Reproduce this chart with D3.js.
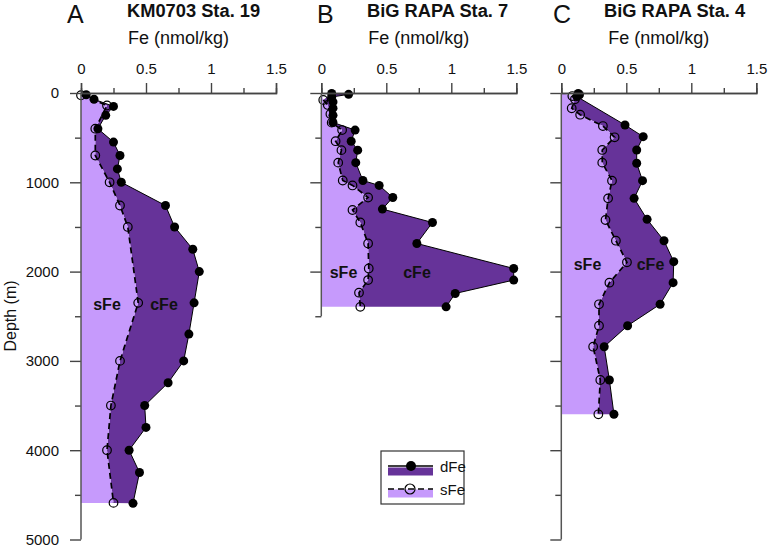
<!DOCTYPE html>
<html>
<head>
<meta charset="utf-8">
<script src="https://cdn.jsdelivr.net/npm/d3@7"></script>
<style>
  html, body { margin: 0; padding: 0; background: #fff; }
  svg { display: block; font-family: Arial, "Liberation Sans", Helvetica, sans-serif; }
</style>
</head>
<body>
<svg id="chart" width="768" height="547"></svg>
<script>
// ---------- data ----------
const xTicksMajor = [0, 0.5, 1, 1.5];
const xTicksMinor = [0.25, 0.75, 1.25];
const xTickLabels = ["0", "0.5", "1", "1.5"];
const yTickLabels = ["0", "1000", "2000", "3000", "4000", "5000"];

const panelLetters = ["A", "B", "C"];
const panelTitles = ["KM0703 Sta. 19", "BiG RAPA Sta. 7", "BiG RAPA Sta. 4"];
const panelMaxDepth = [5000, 2500, 5000];

// Panel A
const A_dDepth = [20, 70, 150, 250, 400, 550, 700, 850, 1000, 1260, 1500, 1750, 2000, 2350, 2700, 3000, 3245, 3500, 3745, 4000, 4250, 4595];
const A_dFe    = [0.04, 0.10, 0.25, 0.19, 0.13, 0.25, 0.30, 0.28, 0.31, 0.65, 0.72, 0.86, 0.91, 0.87, 0.83, 0.79, 0.67, 0.49, 0.50, 0.37, 0.45, 0.40];
const A_sDepth = [25, 140, 400, 700, 1000, 1260, 1500, 2350, 3000, 3500, 4000, 4590];
const A_sFe    = [0.0, 0.20, 0.11, 0.11, 0.22, 0.30, 0.36, 0.44, 0.30, 0.23, 0.20, 0.25];

// Panel B
const B_dDepth = [5, 15, 45, 100, 170, 250, 330, 415, 540, 640, 780, 980, 1035, 1170, 1300, 1450, 1685, 1965, 2095, 2245, 2395];
const B_dFe    = [0.08, 0.21, 0.08, 0.09, 0.09, 0.09, 0.09, 0.26, 0.23, 0.28, 0.265, 0.32, 0.445, 0.55, 0.47, 0.855, 0.735, 1.48, 1.48, 1.03, 0.96];
const B_sDepth = [78, 134, 235, 332, 415, 540, 640, 780, 980, 1035, 1170, 1310, 1450, 1685, 1965, 2095, 2236, 2395];
const B_sFe    = [0.015, 0.05, 0.07, 0.08, 0.16, 0.11, 0.155, 0.13, 0.165, 0.24, 0.36, 0.24, 0.30, 0.36, 0.365, 0.36, 0.29, 0.30];

// Panel C
const C_dDepth = [5, 20, 40, 358, 489, 638, 787, 982, 1180, 1415, 1654, 1889, 2124, 2366, 2606, 2841, 3214, 3598];
const C_dFe    = [0.13, 0.14, 0.12, 0.49, 0.63, 0.58, 0.58, 0.625, 0.56, 0.66, 0.79, 0.865, 0.86, 0.76, 0.51, 0.33, 0.37, 0.405];
const C_sDepth = [34, 70, 171, 243, 370, 496, 638, 780, 982, 1180, 1422, 1654, 1896, 2124, 2366, 2606, 2841, 3214, 3598];
const C_sFe    = [0.085, 0.105, 0.08, 0.145, 0.32, 0.41, 0.315, 0.315, 0.39, 0.36, 0.34, 0.42, 0.505, 0.37, 0.29, 0.29, 0.245, 0.30, 0.285];

const legendLabels = ["dFe", "sFe"];
const areaLabels = ["sFe", "cFe"];

// ---------- layout / style ----------
const DARK = "#663399";
const LIGHT = "#C69AFC";
const AXIS = "#444";
const FONT = 'Arial, "Liberation Sans", Helvetica, sans-serif';

const panelX0 = [81, 321.3, 561.3];
const panelW = 195;
const yTop = 93, yBottom = 539.5;
const letterPos = [[67, 23], [317, 23], [553, 23]];
const titleX = [127, 367, 604];
const areaLabelPos = [[[107, 310], [164, 310]], [[343.5, 278], [417, 278]], [[587.5, 270], [650.5, 270]]];

const datasets = [
  {dD: A_dDepth, dV: A_dFe, sD: A_sDepth, sV: A_sFe},
  {dD: B_dDepth, dV: B_dFe, sD: B_sDepth, sV: B_sFe},
  {dD: C_dDepth, dV: C_dFe, sD: C_sDepth, sV: C_sFe}
];

const svg = d3.select("#chart");
svg.append("rect").attr("width", 768).attr("height", 547).attr("fill", "#fff");

const y = d3.scaleLinear().domain([0, 5000]).range([yTop, yBottom]);

datasets.forEach((ds, i) => {
  const x0 = panelX0[i];
  const x = d3.scaleLinear().domain([0, 1.5]).range([x0, x0 + panelW]);
  const g = svg.append("g");

  const dPts = ds.dD.map((d, k) => [ds.dV[k], d]);
  const sPts = ds.sD.map((d, k) => [ds.sV[k], d]);

  // dark (cFe) polygon: dFe line then sFe reversed
  const darkPoly = dPts.concat(sPts.slice().reverse());
  g.append("path")
    .attr("d", d3.line().x(p => x(p[0])).y(p => y(p[1]))(darkPoly) + "Z")
    .attr("fill", DARK).attr("stroke", "none");

  // light (sFe) polygon
  const lightPoly = [[0, 0]].concat(sPts).concat([[0, sPts[sPts.length - 1][1]]]);
  g.append("path")
    .attr("d", d3.line().x(p => x(p[0])).y(p => y(p[1]))(lightPoly) + "Z")
    .attr("fill", LIGHT).attr("stroke", "none");

  // lines
  g.append("path")
    .attr("d", d3.line().x(p => x(p[0])).y(p => y(p[1]))(dPts))
    .attr("fill", "none").attr("stroke", "#000").attr("stroke-width", 1);
  g.append("path")
    .attr("d", d3.line().x(p => x(p[0])).y(p => y(p[1]))(sPts))
    .attr("fill", "none").attr("stroke", "#000").attr("stroke-width", 1.7)
    .attr("stroke-dasharray", "6,4");

  // markers
  g.selectAll("circle.d").data(dPts).join("circle")
    .attr("class", "d")
    .attr("cx", p => x(p[0])).attr("cy", p => y(p[1])).attr("r", 4.5)
    .attr("fill", "#000");
  g.selectAll("circle.s").data(sPts).join("circle")
    .attr("class", "s")
    .attr("cx", p => x(p[0])).attr("cy", p => y(p[1])).attr("r", 4.3)
    .attr("fill", "none").attr("stroke", "#000").attr("stroke-width", 1.2);

  // area labels
  areaLabels.forEach((t, k) => {
    g.append("text").attr("x", areaLabelPos[i][k][0]).attr("y", areaLabelPos[i][k][1])
      .attr("text-anchor", "middle").attr("font-weight", "bold").attr("font-size", 16)
      .attr("fill", "#111").text(t);
  });

  // x axis (top)
  const xMaj = d3.axisTop(x).tickValues(xTicksMajor).tickSize(10).tickPadding(9)
    .tickFormat((d, k) => xTickLabels[k]);
  const xMin = d3.axisTop(x).tickValues(xTicksMinor).tickSize(5).tickFormat("");
  const gx = svg.append("g").attr("transform", `translate(0,${yTop})`).call(xMaj);
  const gx2 = svg.append("g").attr("transform", `translate(0,${yTop})`).call(xMin);
  [gx, gx2].forEach(a => {
    a.select(".domain").attr("stroke", AXIS).attr("stroke-width", 1.4);
    a.selectAll(".tick line").attr("stroke", AXIS).attr("stroke-width", 1.4);
    a.selectAll("text").attr("font-size", 15).attr("font-family", FONT).attr("fill", "#111");
  });

  // y axis
  const maxD = panelMaxDepth[i];
  const yMajVals = d3.range(0, maxD + 1, 1000);
  const yMinVals = d3.range(500, maxD + 1, 1000);
  const yMaj = d3.axisLeft(y).tickValues(yMajVals).tickSize(11).tickPadding(11)
    .tickFormat((d, k) => i === 0 ? yTickLabels[k] : "");
  const yMin = d3.axisLeft(y).tickValues(yMinVals).tickSize(6).tickFormat("");
  const gy = svg.append("g").attr("transform", `translate(${x0},0)`).call(yMaj);
  const gy2 = svg.append("g").attr("transform", `translate(${x0},0)`).call(yMin);
  gy.select(".domain").remove();
  gy2.select(".domain").remove();
  [gy, gy2].forEach(a => {
    a.selectAll(".tick line").attr("stroke", AXIS).attr("stroke-width", 1.4);
    a.selectAll("text").attr("font-size", 15).attr("font-family", FONT).attr("fill", "#111");
  });
  svg.append("line").attr("x1", x0).attr("x2", x0).attr("y1", y(0)).attr("y2", y(maxD))
    .attr("stroke", "#555").attr("stroke-width", 1.5);

  // texts
  svg.append("text").attr("x", letterPos[i][0]).attr("y", letterPos[i][1])
    .attr("font-size", 25).attr("fill", "#111").text(panelLetters[i]);
  svg.append("text").attr("x", titleX[i]).attr("y", 17)
    .attr("font-size", 18.3).attr("font-weight", "bold").attr("fill", "#111").text(panelTitles[i]);
  svg.append("text").attr("x", x0 + panelW / 2).attr("y", 44)
    .attr("text-anchor", "middle").attr("font-size", 18).attr("fill", "#111").text("Fe (nmol/kg)");
});

// y axis title
svg.append("text").attr("transform", "translate(16,316) rotate(-90)")
  .attr("text-anchor", "middle").attr("font-size", 16).attr("fill", "#111").text("Depth (m)");

// legend
const lg = svg.append("g");
lg.append("rect").attr("x", 381).attr("y", 451).attr("width", 83).attr("height", 53)
  .attr("fill", "#fff").attr("stroke", "#333").attr("stroke-width", 1.2);
lg.append("rect").attr("x", 388).attr("y", 467.5).attr("width", 45).attr("height", 8).attr("fill", DARK);
lg.append("line").attr("x1", 388).attr("x2", 433).attr("y1", 466).attr("y2", 466)
  .attr("stroke", "#000").attr("stroke-width", 1.4);
lg.append("circle").attr("cx", 411).attr("cy", 466).attr("r", 5).attr("fill", "#000");
lg.append("text").attr("x", 440).attr("y", 472).attr("font-size", 15).attr("fill", "#111").text(legendLabels[0]);
lg.append("rect").attr("x", 388).attr("y", 489.5).attr("width", 45).attr("height", 8).attr("fill", LIGHT);
lg.append("line").attr("x1", 388).attr("x2", 433).attr("y1", 489).attr("y2", 489)
  .attr("stroke", "#000").attr("stroke-width", 1.6).attr("stroke-dasharray", "6,4");
lg.append("circle").attr("cx", 410).attr("cy", 489).attr("r", 5).attr("fill", "#fff")
  .attr("fill-opacity", 0).attr("stroke", "#000").attr("stroke-width", 1.2);
lg.append("text").attr("x", 440).attr("y", 495).attr("font-size", 15).attr("fill", "#111").text(legendLabels[1]);
</script>
</body>
</html>
